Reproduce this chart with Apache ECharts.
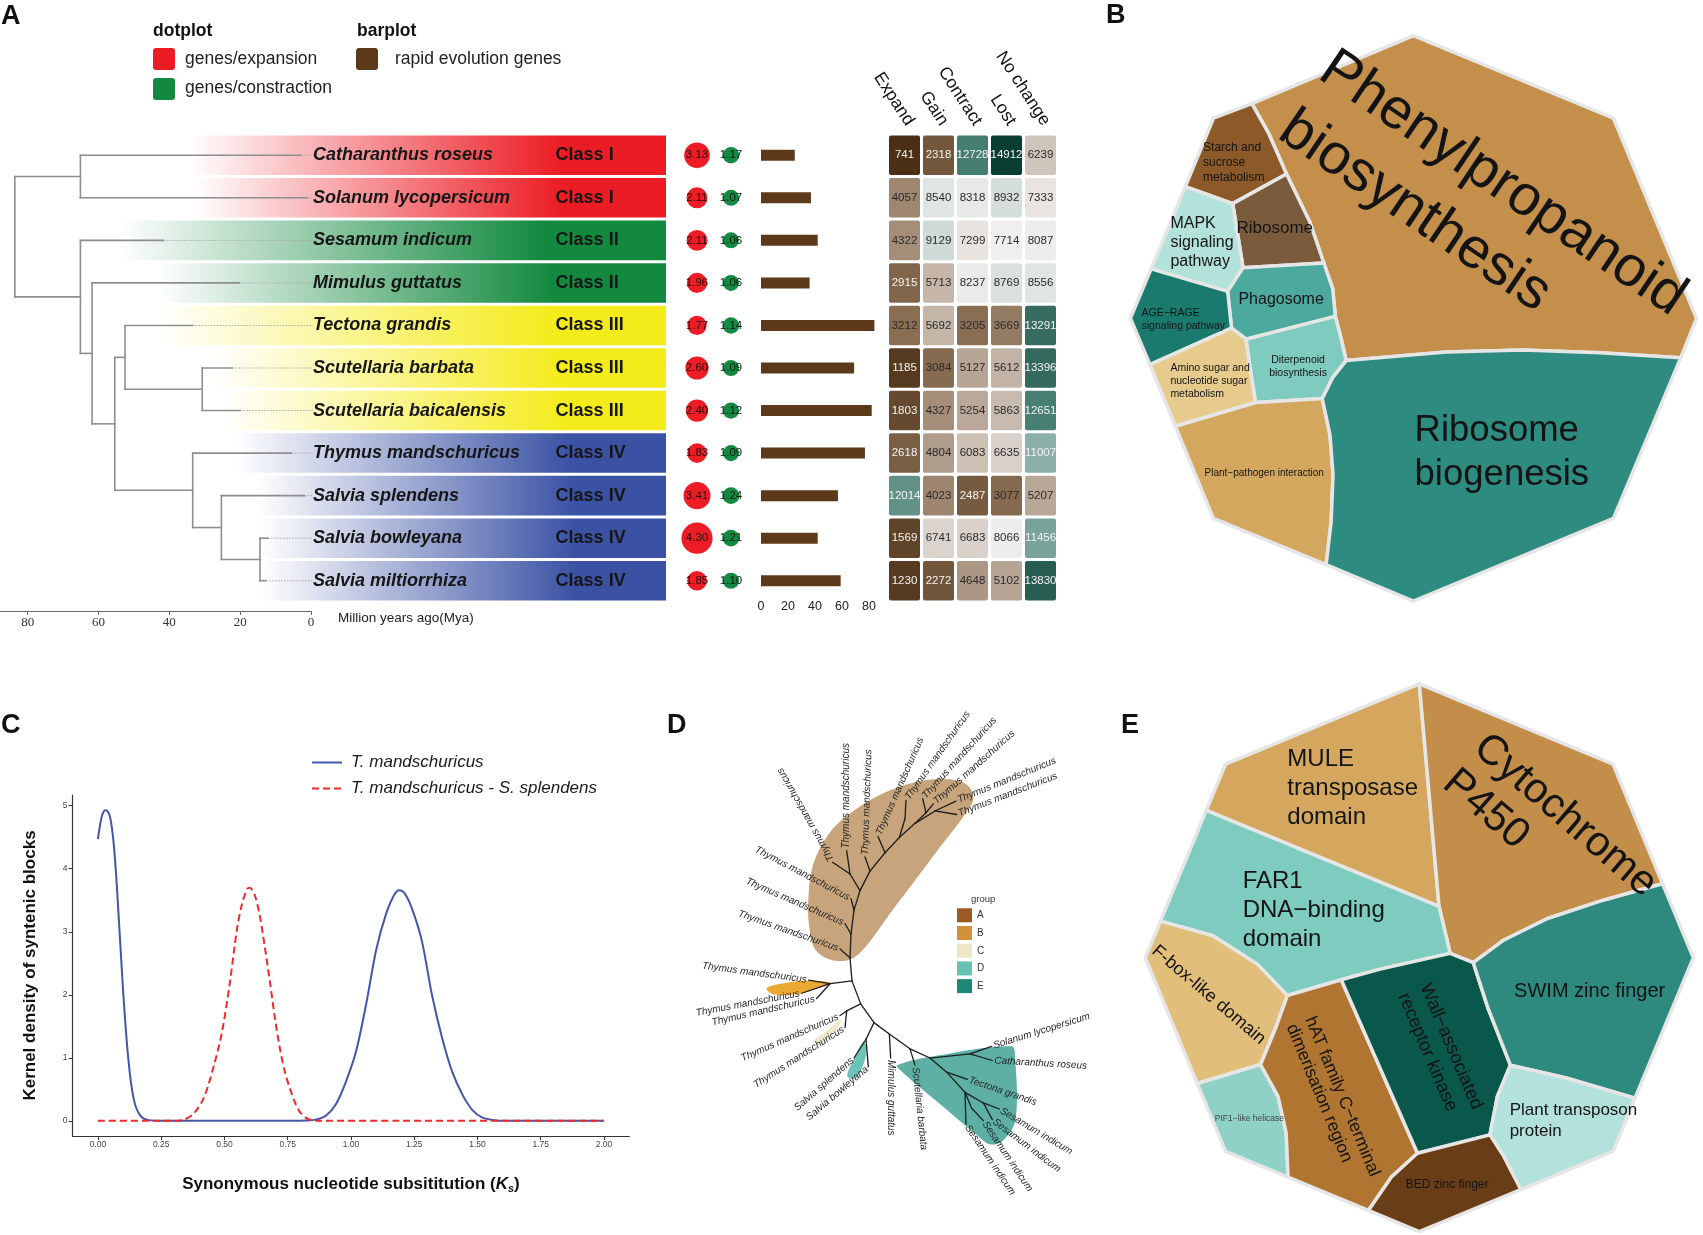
<!DOCTYPE html>
<html>
<head>
<meta charset="utf-8">
<title>Figure</title>
<script src="https://cdn.jsdelivr.net/npm/echarts@6.0.0/dist/echarts.min.js"></script>
<style>
html,body{margin:0;padding:0;background:#ffffff;}
#chart{width:1703px;height:1235px;}
</style>
</head>
<body>
<div id="chart"></div>
<script>
// ================= DATA =================
// ---- Panel A ----
const species = ['Catharanthus roseus','Solanum lycopersicum','Sesamum indicum','Mimulus guttatus','Tectona grandis','Scutellaria barbata','Scutellaria baicalensis','Thymus mandschuricus','Salvia splendens','Salvia bowleyana','Salvia miltiorrhiza'];
const speciesClass = ['Class I','Class I','Class II','Class II','Class III','Class III','Class III','Class IV','Class IV','Class IV','Class IV'];
const expansionRate = [3.13,2.11,2.11,1.96,1.77,2.60,2.40,1.83,3.41,4.30,1.85];
const contractionRate = [1.17,1.07,1.06,1.06,1.14,1.09,1.12,1.09,1.24,1.21,1.10];
const rapidEvolutionGenes = [25,37,42,36,84,69,82,77,57,42,59];
const barTicks = [0,20,40,60,80];
const heatColumns = ['Expand','Gain','Contract','Lost','No change'];
const heatExpand   = [741,4057,4322,2915,3212,1185,1803,2618,12014,1569,1230];
const heatGain     = [2318,8540,9129,5713,5692,3084,4327,4804,4023,6741,2272];
const heatContract = [12728,8318,7299,8237,3205,5127,5254,6083,2487,6683,4648];
const heatLost     = [14912,8932,7714,8769,3669,5612,5863,6635,3077,8066,5102];
const heatNoChange = [6239,7333,8087,8556,13291,13396,12651,11007,5207,11456,13830];
// time tree: nodes 0-10 are the tips (species order), 11-20 internal nodes
const treeParent = [12,12,13,14,16,17,17,18,19,20,20, -1,11,11,13,14,15,16,15,18,19];
const treeAge    = [2.9,0.9,41.7,20.2,33.4,22.2,20.0,5.5,1.8,12.1,12.7, 83.6,65.1,65.1,61.8,55.4,52.5,30.7,33.4,25.3,14.4];
const myaTicks = [0,20,40,60,80];

// ---- Panel C (Ks density) ----
const ksTm = [[0.000,4.47],[0.008,4.68],[0.016,4.84],[0.025,4.92],[0.032,4.93],[0.040,4.90],[0.048,4.82],[0.056,4.63],[0.064,4.33],[0.072,3.90],[0.080,3.38],[0.088,2.84],[0.096,2.30],[0.104,1.80],[0.112,1.36],[0.120,0.99],[0.130,0.63],[0.140,0.38],[0.150,0.22],[0.165,0.10],[0.180,0.04],[0.200,0.012],[0.250,0.0],[0.40,0.0],[0.60,0.0],[0.78,0.0],[0.82,0.006],[0.86,0.02],[0.90,0.08],[0.94,0.26],[0.98,0.62],[1.02,1.10],[1.06,1.85],[1.10,2.72],[1.14,3.30],[1.17,3.58],[1.19,3.66],[1.21,3.62],[1.24,3.38],[1.28,2.86],[1.32,2.00],[1.36,1.32],[1.40,0.78],[1.44,0.42],[1.48,0.17],[1.52,0.05],[1.56,0.015],[1.60,0.0],[1.75,0.0],[2.00,0.0]];
const ksTmSs = [[0.00,0.0],[0.30,0.0],[0.34,0.02],[0.38,0.12],[0.42,0.38],[0.46,0.90],[0.49,1.40],[0.52,2.15],[0.55,3.05],[0.57,3.45],[0.59,3.68],[0.60,3.70],[0.62,3.58],[0.64,3.25],[0.66,2.75],[0.68,2.20],[0.70,1.62],[0.72,1.13],[0.74,0.76],[0.76,0.50],[0.78,0.28],[0.80,0.13],[0.83,0.03],[0.87,0.0],[1.2,0.0],[2.00,0.0]];
const ksTicks = [0,0.25,0.5,0.75,1,1.25,1.5,1.75,2];
const densityTicks = [0,1,2,3,4,5];

// ---- Panel B (KEGG Voronoi treemap; cell outlines in layout units) ----
const keggTerms = ['Phenylpropanoid\nbiosynthesis','Starch and\nsucrose\nmetabolism','Ribosome','MAPK\nsignaling\npathway','Phagosome','AGE\u2212RAGE\nsignaling pathway','Amino sugar and\nnucleotide sugar\nmetabolism','Diterpenoid\nbiosynthesis','Plant\u2212pathogen interaction','Ribosome\nbiogenesis'];
const keggCells = [
 [[395,262],[815,90],[1335,299],[1551,805],[1510,905],[1300,892],[1100,885],[900,890],[640,912],[628,860],[612,800],[605,730],[582,665],[545,560],[485,440],[440,340]],
 [[295,299],[395,262],[440,340],[485,440],[345,515],[222,472]],
 [[345,515],[485,440],[545,560],[582,665],[372,677]],
 [[222,472],[345,515],[372,677],[332,737],[133,680]],
 [[372,677],[582,665],[605,730],[612,800],[380,858],[342,830],[332,737]],
 [[133,680],[332,737],[342,830],[130,922],[79,805]],
 [[130,922],[342,830],[380,858],[392,940],[405,1018],[196,1078]],
 [[380,858],[612,800],[628,860],[640,912],[605,955],[578,1008],[405,1018],[392,940]],
 [[196,1078],[405,1018],[578,1008],[598,1100],[606,1200],[601,1320],[588,1428],[295,1311]],
 [[640,912],[900,890],[1100,885],[1300,892],[1510,905],[1335,1311],[815,1520],[588,1428],[601,1320],[606,1200],[598,1100],[578,1008],[605,955]]
];

// ---- Panel E (Pfam Voronoi treemap) ----
const pfamTerms = ['MULE\ntransposase\ndomain','Cytochrome\nP450','FAR1\nDNA\u2212binding\ndomain','F-box-like domain','PIF1\u2212like helicase','hAT family C\u2212terminal\ndimerisation region','Wall\u2212associated\nreceptor kinase','SWIM zinc finger','Plant transposon\nprotein','BED zinc finger'];
const pfamCells = [
 [[232,410],[284,284],[805,65],[858,672]],
 [[805,65],[1326,284],[1459,610],[1300,655],[1150,705],[1030,765],[950,825],[888,800],[858,672]],
 [[232,410],[858,672],[888,800],[700,843],[595,872],[450,915],[370,830],[250,752],[109,712]],
 [[109,712],[250,752],[370,830],[450,915],[420,1000],[378,1103],[208,1155],[68,812]],
 [[208,1155],[378,1103],[425,1190],[447,1290],[452,1410],[284,1340]],
 [[450,915],[595,872],[800,1345],[730,1410],[668,1501],[452,1410],[447,1290],[425,1190],[378,1103],[420,1000]],
 [[595,872],[700,843],[888,800],[950,825],[990,950],[1050,1105],[1015,1190],[995,1295],[800,1345]],
 [[950,825],[1030,765],[1150,705],[1300,655],[1459,610],[1542,812],[1385,1195],[1200,1140],[1050,1105],[990,950]],
 [[1050,1105],[1200,1140],[1385,1195],[1326,1340],[1078,1444],[1030,1350],[995,1295],[1015,1190]],
 [[800,1345],[995,1295],[1030,1350],[1078,1444],[805,1559],[668,1501],[730,1410]]
];

// ---- Panel D (unrooted tree, layout units) ----
const dNodes = [
 [600,785],[606,850],[632,915],[672,968],[718,1000],[780,1042],[840,1068],
 [603,718],[612,650],[630,595],[660,540],[705,488],[748,445],[795,405],[855,370],
 [600,548],[765,392],[828,375],
 [540,858],[590,935],[648,1015],
 [960,1056],[890,1108],[945,1165],[1000,1195],[965,1210],
 [548,515],[590,482],[645,500],[684,442],[768,340],[818,335],[850,350],[918,342],[920,380],
 [603,618],[585,688],[570,760],
 [476,848],[455,885],[500,900],
 [570,948],[585,982],
 [612,1068],[655,1093],
 [722,1068],[795,1088],
 [1025,1035],[1027,1075],[952,1128],[1048,1212],[1027,1242],[1000,1245],[948,1255]
];
const dEdges = [[0,1],[1,2],[2,3],[3,4],[4,5],[5,6],
 [0,7],[7,8],[8,9],[9,10],[10,11],[11,12],[12,13],[13,14],
 [9,15],[15,26],[15,27],[10,28],[11,29],[12,16],[16,30],[13,17],[17,31],[17,32],[14,33],[14,34],
 [8,35],[7,36],[0,37],
 [1,18],[18,38],[18,39],[18,40],
 [2,19],[19,41],[19,42],
 [3,20],[20,43],[20,44],
 [4,45],[5,46],
 [6,21],[21,47],[21,48],
 [6,22],[22,49],[22,23],[23,24],[24,50],[24,51],[23,25],[25,52],[23,53]];
const dLeafFirst = 26;
const dLeafLabels = ['Thymus mandschuricus','Thymus mandschuricus','Thymus mandschuricus','Thymus mandschuricus','Thymus mandschuricus','Thymus mandschuricus','Thymus mandschuricus','Thymus mandschuricus','Thymus mandschuricus','Thymus mandschuricus','Thymus mandschuricus','Thymus mandschuricus','Thymus mandschuricus','Thymus mandschuricus','Thymus mandschuricus','Thymus mandschuricus','Thymus mandschuricus','Salvia splendens','Salvia bowleyana','Mimulus guttatus','Scutellaria barbata','Solanum lycopersicum','Catharanthus roseus','Tectona grandis','Sesamum indicum','Sesamum indicum','Sesamum indicum','Sesamum indicum'];
const dLabelAngle = [119.5,90,88,66.4,54.8,48,41.8,22.3,21.2,-27.6,-23.4,-19.4,-7.7,10.7,13,23.7,32.7,41.2,40.4,-90,-84,17.2,-3.3,-18.7,-31,-37,-56,-56];
const dGroups = ['A','B','C','D','E'];
const dHulls = [
 [[478,700],[475,620],[490,520],[540,430],[610,370],[700,320],[790,290],[880,280],[950,295],[970,335],[945,380],[880,460],[800,560],[720,660],[650,750],[600,790],[540,790],[495,760]],
 [[350,870],[410,855],[480,850],[540,856],[500,872],[440,888],[370,888]],
 [[488,1020],[525,995],[572,960],[562,985],[515,1025]],
 [[592,1118],[605,1085],[640,1022],[650,1045],[632,1105],[610,1128]],
 [[742,1088],[900,1055],[1085,1035],[1095,1060],[1097,1240],[1060,1300],[1020,1312],[980,1285],[860,1190],[760,1110]]
];

// ================= STYLE =================
const FF = '"Liberation Sans", Arial, Helvetica, sans-serif';
const classColor = {'Class I':'#EC1C24','Class II':'#12893F','Class III':'#F4EB1B','Class IV':'#3A51A4'};
const bandFadeFrom = [190,194,119,158,158,213,221,237,257,261,261];
const keggColors = ['#C38F4B','#8C5A28','#7A5C3C','#B3E2DB','#4CA99E','#1A7A6E','#E7CB8D','#80CBBF','#D4A75F','#2E8B80'];
const keggLabelLayout = [
 {at:[533,238], fs:57, lh:72, rot:-34},
 {at:[268,411], fs:12, lh:15},
 {at:[355,578], fs:17},
 {at:[183,613], fs:16, lh:19},
 {at:[360,758], fs:16},
 {at:[108,809], fs:10.5, lh:12.7},
 {at:[183,964], fs:10.5, lh:12.7},
 {at:[515,927], fs:10.5, lh:12.3, align:'center'},
 {at:[272,1196], fs:10},
 {at:[818,1145], fs:36.5, lh:43.5}
];
const pfamColors = ['#D5A75E','#C38E4A','#7ECBBF','#E1BE7A','#8FD1C6','#B07530','#0A574C','#2E8A7E','#B3E1DB','#693E17'];
const pfamLabelLayout = [
 {at:[450,349], fs:24, lh:29},
 {at:[925,272], fs:42, lh:47, rot:-40.7},
 {at:[330,684], fs:24, lh:29},
 {at:[92,787], fs:18, rot:-40.4},
 {at:[348,1250], fs:8.5, align:'center', color:'#444'},
 {at:[485,985], fs:17.5, lh:20, rot:-67.6},
 {at:[790,898], fs:18.5, lh:24, rot:-67},
 {at:[1060,905], fs:20},
 {at:[1048,1256], fs:17, lh:21},
 {at:[880,1432], fs:12, align:'center'}
];
const dGroupColors = ['#9C5B26','#D2923C','#EDE6C7','#68C2B4','#1E8878'];
const dHullColors = ['#C7A47B','#EBA933','#EEE9CB','#6BC4B7','#5EAFA4'];

function rgba(hex, a){ const n = parseInt(hex.slice(1),16); return 'rgba(' + ((n>>16)&255) + ',' + ((n>>8)&255) + ',' + (n&255) + ',' + a + ')'; }

// ================= DERIVED =================
const nNodes = treeParent.length;
const treeChildren = Array.from({length:nNodes}, () => []);
let treeRoot = 0;
treeParent.forEach((p,i) => { if (p >= 0) treeChildren[p].push(i); else treeRoot = i; });
const treeY = new Array(nNodes);
function calcY(i){
  if (!treeChildren[i].length) { treeY[i] = i; return i; }
  let s = 0; treeChildren[i].forEach(c => { s += calcY(c); });
  treeY[i] = s / treeChildren[i].length; return treeY[i];
}
calcY(treeRoot);

const heatTable = [heatExpand, heatGain, heatContract, heatLost, heatNoChange];
const heatData = [];
species.forEach((s, r) => heatColumns.forEach((c, k) => heatData.push([k, r, heatTable[k][r]])));

// ================= CHART =================
const chart = echarts.init(document.getElementById('chart'), null, {renderer:'canvas', width:1703, height:1235});

const rowTop = 134, rowH = 468;
const hiddenVal = (min, max, inv) => ({type:'value', min, max, inverse:!!inv, show:false});

function voronoiPolys(cells, colors){
  return (params, api) => {
    const i = params.dataIndex;
    return {type:'polygon', shape:{points: cells[i].map(p => api.coord(p))},
      style:{fill: colors[i], stroke:'#E6E6E6', lineWidth:3.5, lineJoin:'round'}};
  };
}
function voronoiLabels(terms, layout){
  return (params, api) => {
    const i = params.dataIndex, L = layout[i];
    const a = api.coord(L.at);
    return {type:'text', x:a[0], y:a[1], rotation:(L.rot||0)*Math.PI/180,
      style:{text:terms[i], fontSize:L.fs, lineHeight:L.lh || Math.round(L.fs*1.2), fontFamily:FF,
        fill:L.color || '#141414', align:L.align || 'left', verticalAlign:'middle'}};
  };
}

const option = {
  backgroundColor:'#ffffff',
  animation:false,
  textStyle:{fontFamily:FF},
  grid:[
    {left:0, top:rowTop, width:311, height:rowH, outerBoundsMode:'none'},          // 0 tree
    {left:0, top:rowTop, width:666, height:rowH, outerBoundsMode:'none'},          // 1 bands
    {left:680, top:rowTop, width:68, height:rowH, outerBoundsMode:'none'},         // 2 dots
    {left:761, top:rowTop, width:116.1, height:rowH, outerBoundsMode:'none'},      // 3 bars
    {left:887.5, top:rowTop, width:170, height:rowH, outerBoundsMode:'none'},      // 4 heat
    {left:72.6, top:795, width:556.7, height:341, outerBoundsMode:'none'},         // 5 Ks
    {left:1100, top:0, width:603, height:620, outerBoundsMode:'none'},             // 6 B
    {left:650, top:680, width:500, height:555, outerBoundsMode:'none'},            // 7 D
    {left:1120, top:660, width:583, height:575, outerBoundsMode:'none'}            // 8 E
  ],
  xAxis:[
    {gridIndex:0, type:'value', inverse:true, min:0, max:87.8, position:'bottom', offset:9,
      axisLine:{show:true, onZero:false, lineStyle:{color:'#6a6a6a', width:1.2}},
      axisTick:{show:true, length:4, lineStyle:{color:'#6a6a6a'}, customValues:myaTicks},
      axisLabel:{customValues:myaTicks, fontFamily:'"Liberation Serif", "Times New Roman", serif', fontSize:13, color:'#333', margin:5},
      splitLine:{show:false}},
    {gridIndex:1, ...hiddenVal(0,666)},
    {gridIndex:2, type:'category', data:['expansion','contraction'], show:false},
    {gridIndex:3, type:'value', min:0, max:86,
      axisLine:{show:false, onZero:false}, axisTick:{show:false}, splitLine:{show:false},
      axisLabel:{customValues:barTicks, fontSize:12.5, color:'#222', margin:-2, fontFamily:FF}},
    {gridIndex:4, type:'category', data:heatColumns, position:'top', show:false},
    {gridIndex:5, type:'value', min:-0.1, max:2.1,
      axisLine:{show:true, onZero:false, lineStyle:{color:'#333', width:1.2}},
      axisTick:{show:true, length:4, lineStyle:{color:'#333'}, customValues:ksTicks},
      axisLabel:{customValues:ksTicks, formatter:v => v.toFixed(2), fontSize:8.5, color:'#444', margin:4, fontFamily:FF},
      splitLine:{show:false},
      name:'{b|Synonymous nucleotide subsititution (}{k|K}{s|s}{b|)}', nameLocation:'middle', nameGap:37,
      nameTextStyle:{rich:{
        b:{fontSize:17, fontWeight:'bold', fontFamily:FF, color:'#111', lineHeight:22},
        k:{fontSize:17, fontWeight:'bold', fontStyle:'italic', fontFamily:FF, color:'#111', lineHeight:22},
        s:{fontSize:11, fontWeight:'bold', fontStyle:'italic', fontFamily:FF, color:'#111', lineHeight:22, padding:[9,0,0,0]}
      }}},
    {gridIndex:6, ...hiddenVal(0,1568)},
    {gridIndex:7, ...hiddenVal(0,1500)},
    {gridIndex:8, ...hiddenVal(0,1568)}
  ],
  yAxis:[
    {gridIndex:0, ...hiddenVal(-0.5,10.5,true)},
    {gridIndex:1, type:'category', data:species, inverse:true, show:false},
    {gridIndex:2, type:'category', data:species, inverse:true, show:false},
    {gridIndex:3, type:'category', data:species, inverse:true, show:false},
    {gridIndex:4, type:'category', data:species, inverse:true, show:false},
    {gridIndex:5, type:'value', min:-0.24, max:5.17,
      axisLine:{show:true, onZero:false, lineStyle:{color:'#333', width:1.2}},
      axisTick:{show:true, length:4, lineStyle:{color:'#333'}, customValues:densityTicks},
      axisLabel:{customValues:densityTicks, fontSize:8.5, color:'#444', margin:5, fontFamily:FF},
      splitLine:{show:false},
      name:'Kernel density of syntenic blocks', nameLocation:'middle', nameGap:34, nameRotate:90,
      nameTextStyle:{fontSize:17, fontWeight:'bold', color:'#111', fontFamily:FF}},
    {gridIndex:6, ...hiddenVal(0,1568,true)},
    {gridIndex:7, ...hiddenVal(0,1568,true)},
    {gridIndex:8, ...hiddenVal(0,1568,true)}
  ],
  visualMap:[{type:'continuous', show:false, seriesIndex:5, dimension:2, min:741, max:14912,
    inRange:{color:['#4A2F14','#876B50','#BFAFA1','#F4F2F1','#AFC7C2','#4B8276','#0A3D32']}}],
  legend:{left:306, top:749, orient:'vertical', itemWidth:30, itemHeight:14, itemGap:9,
    data:['T. mandschuricus','T. mandschuricus - S. splendens'],
    itemStyle:{opacity:0},
    textStyle:{fontSize:17, fontStyle:'italic', color:'#1a1a1a', fontFamily:FF, padding:[0,0,0,4]}},
  series:[
    // 0 time tree
    {type:'custom', xAxisIndex:0, yAxisIndex:0, silent:true,
      data: treeAge.map((a,i) => [a, treeY[i], i]),
      renderItem:(params, api) => {
        const i = params.dataIndex, age = treeAge[i], y = treeY[i];
        const p = api.coord([age, y]);
        const els = [];
        const solid = {stroke:'#8e8e8e', lineWidth:1.6, lineCap:'square'};
        if (treeParent[i] >= 0) {
          const q = api.coord([treeAge[treeParent[i]], y]);
          els.push({type:'line', shape:{x1:q[0], y1:q[1], x2:p[0], y2:p[1]}, style:solid});
        }
        if (treeChildren[i].length) {
          const ys = treeChildren[i].map(c => treeY[c]);
          const a = api.coord([age, Math.min.apply(null, ys)]), b = api.coord([age, Math.max.apply(null, ys)]);
          els.push({type:'line', shape:{x1:a[0], y1:a[1], x2:b[0], y2:b[1]}, style:solid});
        } else {
          const z = api.coord([0, y]);
          els.push({type:'line', shape:{x1:p[0], y1:p[1], x2:z[0]+2, y2:z[1]}, style:{stroke:'#a8a8a8', lineWidth:1, lineDash:[1.5,1.5]}});
        }
        return {type:'group', children:els};
      }},
    // 1 class bands with names
    {type:'custom', xAxisIndex:1, yAxisIndex:1, silent:true, z:1,
      data: species.map((s,i) => [bandFadeFrom[i], i]),
      renderItem:(params, api) => {
        const i = params.dataIndex, cs = params.coordSys;
        const c = api.coord([bandFadeFrom[i], i]);
        const h = api.size([0,1])[1];
        const col = classColor[speciesClass[i]];
        const x1 = cs.x + cs.width;
        return {type:'group', children:[
          {type:'rect', shape:{x:c[0], y:c[1]-h/2+1.5, width:x1-c[0], height:h-3},
            style:{fill:new echarts.graphic.LinearGradient(0,0,1,0,[{offset:0,color:rgba(col,0)},{offset:0.78,color:rgba(col,1)},{offset:1,color:rgba(col,1)}])}},
          {type:'text', x:api.coord([313,i])[0], y:c[1], style:{text:species[i], fontSize:18, fontWeight:'bold', fontStyle:'italic', fontFamily:FF, fill:'#161616', align:'left', verticalAlign:'middle'}},
          {type:'text', x:api.coord([555.6,i])[0], y:c[1], style:{text:speciesClass[i], fontSize:18, fontWeight:'bold', fontFamily:FF, fill:'#161616', align:'left', verticalAlign:'middle'}}
        ]};
      }},
    // 2 expansion dots
    {type:'scatter', xAxisIndex:2, yAxisIndex:2, data: expansionRate.map((v,i) => [0, i, v]),
      symbolSize: d => 11 + 4.7*d[2], itemStyle:{color:'#EE1D25', opacity:1},
      label:{show:true, position:'inside', formatter:p => p.value[2].toFixed(2), fontSize:11.5, color:'#2b0b0b', fontFamily:FF}},
    // 3 contraction dots
    {type:'scatter', xAxisIndex:2, yAxisIndex:2, data: contractionRate.map((v,i) => [1, i, v]),
      symbolSize: d => 11 + 4.7*d[2], itemStyle:{color:'#138A43', opacity:1},
      label:{show:true, position:'inside', formatter:p => p.value[2].toFixed(2), fontSize:11.5, color:'#0b1a0b', fontFamily:FF}},
    // 4 rapid evolution genes bars
    {type:'bar', xAxisIndex:3, yAxisIndex:3, data:rapidEvolutionGenes, barWidth:11, itemStyle:{color:'#5C3A19'}},
    // 5 heatmap
    {type:'custom', xAxisIndex:4, yAxisIndex:4, data:heatData,
      renderItem:(params, api) => {
        const d = heatData[params.dataIndex];
        const c = api.coord([d[0], d[1]]); const s = api.size([1,1]);
        const v = d[2];
        const light = (v < 3000 || v > 10500);
        return {type:'group', children:[
          {type:'rect', shape:{x:c[0]-s[0]/2+1.5, y:c[1]-s[1]/2+1.5, width:s[0]-3, height:s[1]-3, r:2}, style:{fill:api.visual('color')}},
          {type:'text', x:c[0], y:c[1], style:{text:String(v), fontSize:11.5, fontFamily:FF, fill: light ? '#f4f4f4' : '#2a2a2a', align:'center', verticalAlign:'middle'}}
        ]};
      }},
    // 6-7 Ks density
    {type:'line', name:'T. mandschuricus', xAxisIndex:5, yAxisIndex:5, data:ksTm, symbol:'none', smooth:0.3,
      lineStyle:{color:'#4556A9', width:2}, itemStyle:{color:'#4556A9'}},
    {type:'line', name:'T. mandschuricus - S. splendens', xAxisIndex:5, yAxisIndex:5, data:ksTmSs, symbol:'none', smooth:0.3,
      lineStyle:{color:'#EE2A2A', width:2, type:[7,4]}, itemStyle:{color:'#EE2A2A'}},
    // 8-9 panel B
    {type:'custom', xAxisIndex:6, yAxisIndex:6, silent:true, z:2, data:keggCells.map((c,i) => [c[0][0], c[0][1], i]), renderItem:voronoiPolys(keggCells, keggColors)},
    {type:'custom', xAxisIndex:6, yAxisIndex:6, silent:true, z:3, data:keggLabelLayout.map((l,i) => [l.at[0], l.at[1], i]), renderItem:voronoiLabels(keggTerms, keggLabelLayout)},
    // 10-12 panel D
    {type:'custom', xAxisIndex:7, yAxisIndex:7, silent:true, z:2, data:dHulls.map((h,i) => [h[0][0], h[0][1], i]),
      renderItem:(params, api) => ({type:'polygon', shape:{points:dHulls[params.dataIndex].map(p => api.coord(p)), smooth:0.35},
        style:{fill:dHullColors[params.dataIndex]}})},
    {type:'custom', xAxisIndex:7, yAxisIndex:7, silent:true, z:3, data:dEdges.map((e,i) => [dNodes[e[0]][0], dNodes[e[0]][1], i]),
      renderItem:(params, api) => { const e = dEdges[params.dataIndex]; const a = api.coord(dNodes[e[0]]), b = api.coord(dNodes[e[1]]);
        return {type:'line', shape:{x1:a[0], y1:a[1], x2:b[0], y2:b[1]}, style:{stroke:'#1c1c1c', lineWidth:1.3, lineCap:'round'}}; }},
    {type:'custom', xAxisIndex:7, yAxisIndex:7, silent:true, z:4, data:dLeafLabels.map((t,i) => [dNodes[dLeafFirst+i][0], dNodes[dLeafFirst+i][1], i]),
      renderItem:(params, api) => {
        const i = params.dataIndex; const p = api.coord(dNodes[dLeafFirst+i]);
        const ang = dLabelAngle[i]; const r = ang*Math.PI/180;
        const right = (i >= 9 && i <= 18);
        const off = right ? -2 : 2;
        return {type:'text', x:p[0] + off*Math.cos(r), y:p[1] - off*Math.sin(r), rotation:r,
          style:{text:dLeafLabels[i], fontSize:10, fontStyle:'italic', fontFamily:FF, fill:'#262626', align: right ? 'right' : 'left', verticalAlign:'middle'}};
      }},
    // 13-14 panel E
    {type:'custom', xAxisIndex:8, yAxisIndex:8, silent:true, z:2, data:pfamCells.map((c,i) => [c[0][0], c[0][1], i]), renderItem:voronoiPolys(pfamCells, pfamColors)},
    {type:'custom', xAxisIndex:8, yAxisIndex:8, silent:true, z:3, data:pfamLabelLayout.map((l,i) => [l.at[0], l.at[1], i]), renderItem:voronoiLabels(pfamTerms, pfamLabelLayout)},
    // 15 heatmap column headers
    {type:'custom', xAxisIndex:4, yAxisIndex:4, silent:true, data:heatColumns.map((c,k) => [k, 0]),
      renderItem:(params, api) => {
        const k = params.dataIndex; const c = api.coord([k, 0]);
        return {type:'text', x:c[0] + 5.5, y:params.coordSys.y - 10, rotation:-57*Math.PI/180,
          style:{text:heatColumns[k], fontSize:17.5, fontFamily:FF, fill:'#111', align:'right', verticalAlign:'middle'}};
      }}
  ],
  graphic:[]
};

// panel letters, legends and captions
const G = option.graphic;
const txt = (x, y, t, st) => G.push({type:'text', x, y, silent:true, style:Object.assign({text:t, fontFamily:FF, fill:'#111', verticalAlign:'middle', align:'left'}, st)});
txt(1, 17, 'A', {fontSize:27, fontWeight:'bold'});
txt(1106, 16, 'B', {fontSize:27, fontWeight:'bold'});
txt(1, 726, 'C', {fontSize:27, fontWeight:'bold'});
txt(667, 726, 'D', {fontSize:27, fontWeight:'bold'});
txt(1121, 726, 'E', {fontSize:27, fontWeight:'bold'});
// panel A legend
txt(153, 31, 'dotplot', {fontSize:17.5, fontWeight:'bold'});
txt(357, 31, 'barplot', {fontSize:17.5, fontWeight:'bold'});
G.push({type:'rect', silent:true, shape:{x:153, y:48, width:22, height:22, r:3}, style:{fill:'#EC1C24'}});
G.push({type:'rect', silent:true, shape:{x:153, y:78, width:22, height:22, r:3}, style:{fill:'#12893F'}});
G.push({type:'rect', silent:true, shape:{x:356, y:48, width:22, height:22, r:3}, style:{fill:'#5C3A19'}});
txt(185, 59, 'genes/expansion', {fontSize:17.5, fill:'#222'});
txt(185, 88, 'genes/constraction', {fontSize:17.5, fill:'#222'});
txt(395, 59, 'rapid evolution genes', {fontSize:17.5, fill:'#222'});
txt(338, 618, 'Million years ago(Mya)', {fontSize:13.5, fill:'#222'});
// panel D legend
txt(971, 899, 'group', {fontSize:9.5, fill:'#333'});
dGroups.forEach((g, k) => {
  G.push({type:'rect', silent:true, shape:{x:957, y:908.3 + k*17.7, width:15, height:14}, style:{fill:dGroupColors[k]}});
  txt(977, 915.4 + k*17.7, g, {fontSize:10, fill:'#333'});
});

chart.setOption(option);
</script>
</body>
</html>
